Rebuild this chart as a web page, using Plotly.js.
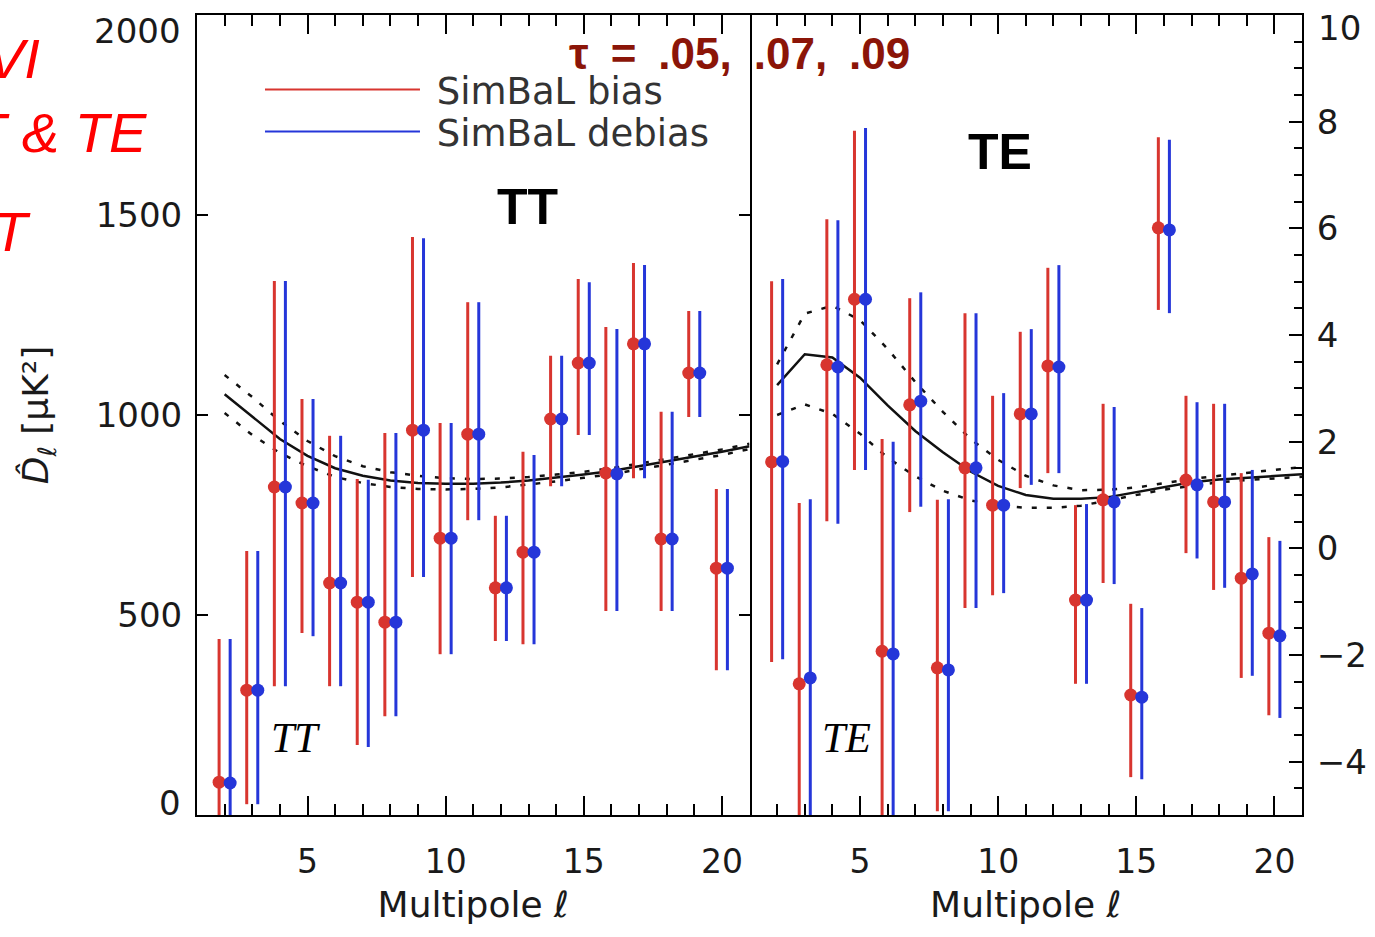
<!DOCTYPE html>
<html>
<head>
<meta charset="utf-8">
<script src="https://cdn.plot.ly/plotly-3.0.1.min.js"></script>
<style>
html,body{margin:0;padding:0;background:#ffffff;}
#chart{width:1375px;height:937px;}
</style>
</head>
<body>
<div id="chart"></div>
<script>
// ---------- data ----------
const ell = [2,3,4,5,6,7,8,9,10,11,12,13,14,15,16,17,18,19,20];
const ellTheory = [2,3,4,5,6,7,8,9,10,11,12,13,14,15,16,17,18,19,20,21];

// TT panel (muK^2)
const ttBias      = [82, 312, 820, 780, 580, 532, 482, 962, 692, 952, 568, 657, 990, 1130, 855, 1178, 690, 1105, 617];
const ttBiasHi    = [440, 660, 1335, 1040, 948, 840, 955, 1445, 980, 1282, 748, 908, 1148, 1340, 1220, 1380, 1008, 1260, 815];
const ttBiasLo    = [-280, 27, 322, 455, 322, 175, 247, 595, 402, 737, 435, 427, 822, 950, 510, 842, 510, 995, 362];
const ttDebias    = [80, 312, 820, 780, 580, 532, 482, 962, 692, 952, 568, 657, 990, 1130, 853, 1178, 690, 1105, 617];
const ttDebiasHi  = [440, 660, 1335, 1040, 948, 838, 955, 1442, 980, 1282, 748, 900, 1148, 1332, 1215, 1375, 1008, 1260, 815];
const ttDebiasLo  = [-280, 27, 322, 447, 322, 170, 247, 595, 402, 737, 435, 427, 822, 950, 510, 842, 510, 995, 362];

const ttTheoryMid = [1052, 995, 940, 898, 867, 848, 836, 830, 828, 828, 831, 836, 843, 851, 860, 872, 884, 895, 908, 922];
const ttTheoryHi  = [1100, 1045, 985, 935, 897, 872, 857, 848, 842, 840, 841, 845, 851, 858, 867, 878, 890, 902, 914, 928];
const ttTheoryLo  = [1005, 950, 905, 872, 845, 830, 820, 815, 814, 815, 819, 826, 834, 843, 852, 864, 876, 888, 900, 915];

// TE panel (muK^2)
const teBias      = [1.62, -2.54, 3.44, 4.67, -1.93, 2.69, -2.24, 1.51, 0.81, 2.52, 3.42, -0.97, 0.91, -2.75, 6.01, 1.28, 0.87, -0.56, -1.59];
const teBiasHi    = [5.01, 0.85, 6.17, 7.83, 2.05, 4.69, 0.91, 4.41, 2.86, 4.06, 5.26, 0.81, 2.71, -1.04, 7.71, 2.86, 2.71, 1.41, 0.21];
const teBiasLo    = [-2.13, -6.0, 0.51, 1.47, -6.0, 0.68, -4.93, -1.12, -0.88, 1.13, 1.41, -2.54, -0.65, -4.29, 4.47, -0.09, -0.78, -2.43, -3.13];
const teDebias    = [1.63, -2.43, 3.40, 4.67, -1.98, 2.76, -2.28, 1.51, 0.81, 2.52, 3.40, -0.97, 0.87, -2.79, 5.97, 1.19, 0.87, -0.48, -1.64];
const teDebiasHi  = [5.05, 0.92, 6.15, 7.88, 2.00, 4.80, 0.92, 4.41, 2.91, 4.11, 5.31, 0.83, 2.65, -1.12, 7.66, 2.74, 2.71, 1.47, 0.14];
const teDebiasLo  = [-2.08, -6.0, 0.46, 1.47, -6.0, 0.78, -4.93, -1.12, -0.84, 1.19, 1.41, -2.54, -0.67, -4.33, 4.41, -0.19, -0.74, -2.39, -3.18];

const teTheoryMid = [3.06, 3.64, 3.58, 3.20, 2.68, 2.20, 1.80, 1.44, 1.17, 1.00, 0.93, 0.93, 0.96, 1.05, 1.15, 1.24, 1.29, 1.32, 1.36, 1.39];
const teTheoryHi  = [3.45, 4.40, 4.55, 4.28, 3.74, 3.12, 2.56, 2.05, 1.66, 1.36, 1.18, 1.09, 1.10, 1.14, 1.22, 1.30, 1.36, 1.42, 1.47, 1.52];
const teTheoryLo  = [2.50, 2.70, 2.52, 2.15, 1.70, 1.35, 1.08, 0.90, 0.80, 0.76, 0.76, 0.80, 0.90, 1.00, 1.10, 1.17, 1.24, 1.28, 1.31, 1.34];

const seriesNames = ['SimBaL bias', 'SimBaL debias'];
const xTickVals = [5, 10, 15, 20];
const ttTickVals = [500, 1000, 1500];
const teTickVals = [-4, -2, 0, 2, 4, 6, 8];

// ---------- style ----------
const RED = '#d8352f';
const BLUE = '#2536d9';
const FONT = 'DejaVu Sans, sans-serif';
const OFF = 0.2;
const NB = '\u00a0';

function shift(arr, d) { return arr.map(v => v + d); }
function diff(a, b) { return a.map((v, i) => v - b[i]); }

function pts(x, y, hi, lo, color, xa, ya) {
  return {
    type: 'scatter', mode: 'markers', x: x, y: y, xaxis: xa, yaxis: ya,
    showlegend: false, cliponaxis: true,
    marker: {color: color, size: 13},
    error_y: {type: 'data', symmetric: false, array: diff(hi, y), arrayminus: diff(y, lo),
              color: color, thickness: 3, width: 0}
  };
}
function curve(x, y, dash, xa, ya) {
  return {type: 'scatter', mode: 'lines', x: x, y: y, xaxis: xa, yaxis: ya, showlegend: false,
          line: {color: '#111', width: 2.5, dash: dash}};
}

const traces = [
  curve(ellTheory, ttTheoryHi, '5px,10px', 'x', 'y'),
  curve(ellTheory, ttTheoryLo, '5px,10px', 'x', 'y'),
  curve(ellTheory, ttTheoryMid, 'solid', 'x', 'y'),
  curve(ellTheory, teTheoryHi, '5px,10px', 'x2', 'y2'),
  curve(ellTheory, teTheoryLo, '5px,10px', 'x2', 'y2'),
  curve(ellTheory, teTheoryMid, 'solid', 'x2', 'y2'),
  pts(shift(ell, -OFF), ttBias, ttBiasHi, ttBiasLo, RED, 'x', 'y'),
  pts(shift(ell, OFF), ttDebias, ttDebiasHi, ttDebiasLo, BLUE, 'x', 'y'),
  pts(shift(ell, -OFF), teBias, teBiasHi, teBiasLo, RED, 'x2', 'y2'),
  pts(shift(ell, OFF), teDebias, teDebiasHi, teDebiasLo, BLUE, 'x2', 'y2'),
  {type: 'scatter', mode: 'lines', x: [null], y: [null], name: NB + seriesNames[0], legend: 'legend',
   line: {color: RED, width: 2}, xaxis: 'x', yaxis: 'y'},
  {type: 'scatter', mode: 'lines', x: [null], y: [null], name: NB + seriesNames[1], legend: 'legend2',
   line: {color: BLUE, width: 2}, xaxis: 'x', yaxis: 'y'}
];

const xCommon = {
  range: [1, 21], tickmode: 'array', tickvals: xTickVals,
  ticks: 'inside', ticklen: 19, tickwidth: 2, tickcolor: '#000',
  minor: {tickmode: 'linear', tick0: 0, dtick: 1, ticks: 'inside', ticklen: 11, tickwidth: 2, tickcolor: '#000'},
  showline: true, linecolor: '#000', linewidth: 2, mirror: 'allticks',
  showgrid: false, zeroline: false,
  tickfont: {family: FONT, size: 33, color: '#1a1a1a'},
  ticklabelstandoff: 16,
  title: {text: 'Multipole <i>\u2113</i>', font: {family: FONT, size: 36, color: '#1a1a1a'}, standoff: 12}
};

const legendCommon = {
  xanchor: 'left', yanchor: 'top', bgcolor: 'rgba(0,0,0,0)', borderwidth: 0,
  font: {family: FONT, size: 37, color: '#333'}, itemwidth: 155
};

const layout = {
  width: 1375, height: 937,
  margin: {l: 197, r: 73, t: 15, b: 122},
  paper_bgcolor: '#ffffff', plot_bgcolor: '#ffffff',
  font: {family: FONT, color: '#1a1a1a'},
  xaxis: Object.assign({}, xCommon, {domain: [0, 0.5], anchor: 'y'}),
  xaxis2: Object.assign({}, xCommon, {domain: [0.5, 1], anchor: 'y2'}),
  yaxis: {
    domain: [0, 1], anchor: 'x', range: [0, 2000],
    tickmode: 'array', tickvals: ttTickVals,
    ticks: 'inside', ticklen: 11, tickwidth: 2, tickcolor: '#000',
    showline: true, linecolor: '#000', linewidth: 2, mirror: 'ticks',
    showgrid: false, zeroline: false,
    tickfont: {family: FONT, size: 34, color: '#1a1a1a'},
    ticklabelstandoff: 6,
    title: {text: '<i>D\u0302</i><sub>\u2113</sub> [\u03bcK\u00b2]', font: {family: FONT, size: 36, color: '#1a1a1a'}, standoff: 36}
  },
  yaxis2: {
    domain: [0, 1], anchor: 'x2', side: 'right', range: [-5, 10],
    tickmode: 'array', tickvals: teTickVals,
    ticks: 'inside', ticklen: 13, tickwidth: 2, tickcolor: '#000',
    minor: {tickmode: 'linear', tick0: 0, dtick: 0.5, ticks: 'inside', ticklen: 8, tickwidth: 2, tickcolor: '#000'},
    showline: true, linecolor: '#000', linewidth: 2, mirror: false,
    showgrid: false, zeroline: false,
    tickfont: {family: FONT, size: 34, color: '#1a1a1a'},
    ticklabelstandoff: 6
  },
  yaxis3: {
    overlaying: 'y2', anchor: 'x2', side: 'left', range: [-5, 10],
    tickmode: 'array', tickvals: teTickVals,
    ticks: 'inside', ticklen: 11, tickwidth: 2, tickcolor: '#000',
    showticklabels: false, showline: false, showgrid: false, zeroline: false
  },
  legend: Object.assign({}, legendCommon, {x: 0.057, y: 0.945}),
  legend2: Object.assign({}, legendCommon, {x: 0.057, y: 0.8925}),
  showlegend: true,
  annotations: [
    {xref: 'paper', yref: 'paper', x: -0.0127, y: 0.98, xanchor: 'right', yanchor: 'middle', showarrow: false,
     text: '2000', font: {family: FONT, size: 34, color: '#1a1a1a'}},
    {xref: 'paper', yref: 'paper', x: -0.0127, y: 0.015, xanchor: 'right', yanchor: 'middle', showarrow: false,
     text: '0', font: {family: FONT, size: 34, color: '#1a1a1a'}},
    {xref: 'paper', yref: 'paper', x: 1.0127, y: 0.984, xanchor: 'left', yanchor: 'middle', showarrow: false,
     text: '10', font: {family: FONT, size: 34, color: '#1a1a1a'}},
    {xref: 'paper', yref: 'paper', x: 0.4914, y: 0.952, xanchor: 'center', yanchor: 'middle', showarrow: false,
     text: '<b>\u03c4\u2002=\u2002.05,\u2002.07,\u2002.09</b>', font: {family: 'Liberation Sans, Arial, sans-serif', size: 44, color: '#8b1508'}},
    {xref: 'paper', yref: 'paper', x: 0.2995, y: 0.76, xanchor: 'center', yanchor: 'middle', showarrow: false,
     text: '<b>TT</b>', font: {family: 'Liberation Sans, Arial, sans-serif', size: 50, color: '#000'}},
    {xref: 'paper', yref: 'paper', x: 0.7267, y: 0.829, xanchor: 'center', yanchor: 'middle', showarrow: false,
     text: '<b>TE</b>', font: {family: 'Liberation Sans, Arial, sans-serif', size: 50, color: '#000'}},
    {xref: 'paper', yref: 'paper', x: 0.0887, y: 0.0963, xanchor: 'center', yanchor: 'middle', showarrow: false,
     text: '<i>TT</i>', font: {family: 'Liberation Serif, serif', size: 42, color: '#000'}},
    {xref: 'paper', yref: 'paper', x: 0.588, y: 0.0963, xanchor: 'center', yanchor: 'middle', showarrow: false,
     text: '<i>TE</i>', font: {family: 'Liberation Serif, serif', size: 42, color: '#000'}},
    {xref: 'paper', yref: 'paper', x: -0.14, y: 0.946, xanchor: 'right', yanchor: 'middle', showarrow: false,
     text: '<i>VI</i>', font: {family: 'Liberation Sans, Arial, sans-serif', size: 56, color: '#ff0000'}},
    {xref: 'paper', yref: 'paper', x: -0.0435, y: 0.8525, xanchor: 'right', yanchor: 'middle', showarrow: false,
     text: '<i>T & TE</i>', font: {family: 'Liberation Sans, Arial, sans-serif', size: 56, color: '#ff0000'}},
    {xref: 'paper', yref: 'paper', x: -0.148, y: 0.729, xanchor: 'right', yanchor: 'middle', showarrow: false,
     text: '<i>T</i>', font: {family: 'Liberation Sans, Arial, sans-serif', size: 56, color: '#ff0000'}}
  ]
};

Plotly.newPlot('chart', traces, layout, {displayModeBar: false, staticPlot: true});
</script>
</body>
</html>
